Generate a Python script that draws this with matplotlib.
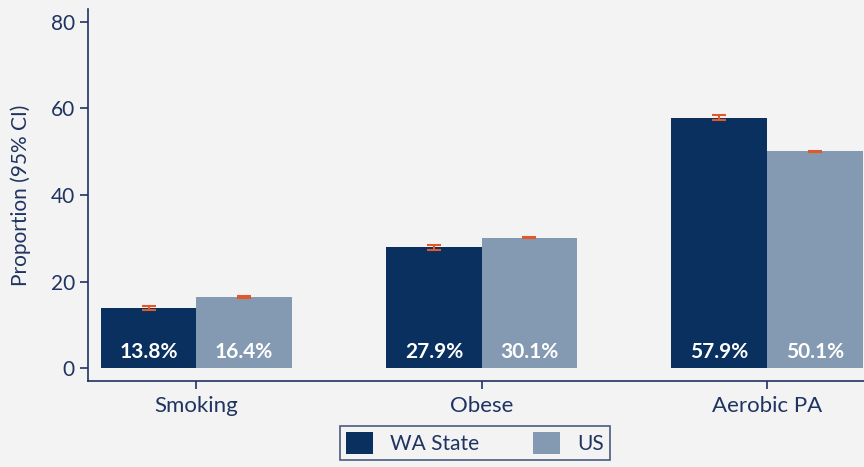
import matplotlib
matplotlib.use("Agg")
import matplotlib.pyplot as plt
import numpy as np

categories = ["Smoking", "Obese", "Aerobic PA"]
wa = [13.8, 27.9, 57.9]
us = [16.4, 30.1, 50.1]
wa_err = [0.45, 0.5, 0.65]
us_err = [0.15, 0.15, 0.15]
series = ["WA State", "US"]

navy = "#1f3461"
wa_col = "#0a3060"
us_col = "#8499b2"
err_col = "#e0592a"
bg = "#f3f3f3"

plt.rcParams["font.family"] = ["Lato", "DejaVu Sans"]

fig = plt.figure(figsize=(8.64, 4.67), dpi=100, facecolor=bg)
ax = fig.add_axes([88/864, 1-381/467, 1-88/864, (381-9)/467])
ax.set_facecolor(bg)

x = np.arange(len(categories))
w = 0.335
b1 = ax.bar(x - w/2, wa, w, color=wa_col, label=series[0])
b2 = ax.bar(x + w/2, us, w, color=us_col, label=series[1])
ax.errorbar(x - w/2, wa, yerr=wa_err, fmt="none", ecolor=err_col, elinewidth=1.5, capsize=5, capthick=1.5)
ax.errorbar(x + w/2, us, yerr=us_err, fmt="none", ecolor=err_col, elinewidth=1.5, capsize=5, capthick=1.5)

for bars, vals in [(b1, wa), (b2, us)]:
    for r, v in zip(bars, vals):
        ax.text(r.get_x() + r.get_width()/2, 3.6, f"{v}%", ha="center", va="center",
                color="white", fontsize=15, fontweight="bold")

ax.set_xlim(-0.38, 2.34)
ax.set_ylim(-3, 83)
ax.set_yticks([0, 20, 40, 60, 80])
ax.set_xticks(x)
ax.set_xticklabels(categories)
ax.tick_params(axis="both", colors=navy, labelcolor=navy, labelsize=15, length=6, width=1.2)
ax.tick_params(axis="x", labelsize=16, pad=5)
ax.set_ylabel("Proportion (95% CI)", color=navy, fontsize=15, labelpad=14)
for s in ["top", "right"]:
    ax.spines[s].set_visible(False)
for s in ["left", "bottom"]:
    ax.spines[s].set_color(navy)
    ax.spines[s].set_linewidth(1.2)

leg = fig.legend(handles=[b1, b2], labels=series, loc="upper center",
                 bbox_to_anchor=(475/864, 1-426/467), ncol=2, frameon=True,
                 fancybox=False, edgecolor=navy, facecolor=bg, fontsize=15,
                 handlelength=1.3, handleheight=1.2, columnspacing=2.6,
                 borderpad=0.3, borderaxespad=0)
for t in leg.get_texts():
    t.set_color(navy)
leg.get_frame().set_linewidth(1.2)

fig.savefig("out.png", dpi=100, facecolor=bg)
